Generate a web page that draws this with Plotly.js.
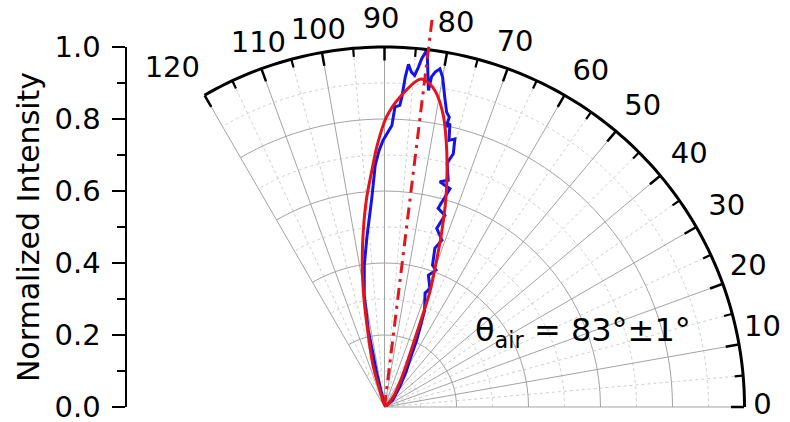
<!DOCTYPE html>
<html>
<head>
<meta charset="utf-8">
<script src="https://cdn.plot.ly/plotly-3.0.1.min.js"></script>
<style>
  html, body { margin: 0; padding: 0; background: #fff; }
  #chart { width: 790px; height: 422px; }
</style>
</head>
<body>
<div id="chart"></div>
<script>
// Measured angular emission profile (deg, normalized intensity)
const measTheta = [100, 99.7, 103.0, 101.9, 100.3, 98.1, 96.0, 93.5, 92.2, 91.2, 90.3, 88.5, 88.0, 87.1, 86.8,
  86.4, 86.0, 85.4, 84.8, 84.3, 83.9, 83.5, 83.2, 82.1, 81.9, 81.4, 80.7, 80.0, 79.0, 78.1, 77.4, 77.6, 77.0,
  76.4, 75.3, 74.8, 75.6, 74.3, 76.2, 73.3, 74.9, 72.5, 73.7, 71.0, 72.4, 71.3, 69.4, 71.6, 69.0, 70.4, 67.4,
  66.0, 64.3, 62.5, 58.5, 53, 40, 0];
const measR = [0, 0.020, 0.096, 0.218, 0.315, 0.398, 0.471, 0.580, 0.672, 0.713, 0.741, 0.782, 0.834, 0.839, 0.862,
  0.918, 0.954, 0.933, 0.925, 0.949, 0.973, 0.988, 1.000, 0.888, 0.926, 0.941, 0.952, 0.930, 0.877, 0.837, 0.825, 0.797, 0.808,
  0.762, 0.770, 0.729, 0.700, 0.654, 0.644, 0.633, 0.572, 0.558, 0.517, 0.490, 0.463, 0.416, 0.406, 0.386, 0.352, 0.336, 0.290,
  0.245, 0.206, 0.160, 0.115, 0.07, 0.03, 0];

// Fitted lobe
const fitTheta = [106, 105.2, 105.5, 102.0, 100.3, 98.9, 96.9, 94.9, 92.9, 91.7, 89.6, 87.1, 83.8, 82.2, 80.6,
  78.5, 77.0, 75.4, 73.6, 71.9, 70.2, 68.5, 66.4, 60.8, 49.5, 45];
const fitR = [0, 0.030, 0.116, 0.238, 0.330, 0.399, 0.491, 0.582, 0.665, 0.723, 0.806, 0.863, 0.916, 0.908, 0.883,
  0.823, 0.761, 0.690, 0.604, 0.512, 0.420, 0.345, 0.223, 0.107, 0.038, 0];

// Emission direction
const peakTheta = [83, 83];
const peakR = [0, 1.1];

// Axis ticks
const angleTicks = [0, 10, 20, 30, 40, 50, 60, 70, 80, 90, 100, 110, 120];
const angleTickText = angleTicks.map(String);
const angleMinor = [5, 15, 25, 35, 45, 55, 65, 75, 85, 95, 105, 115];
const radialMajor = [0.2, 0.4, 0.6, 0.8];
const radialMinor = [0.1, 0.3, 0.5, 0.7, 0.9];
const intensityTicks = [0, 0.2, 0.4, 0.6, 0.8, 1.0];
const intensityTickText = intensityTicks.map(v => v.toFixed(1));

// Where each angle label sits, just outside the frame
const labelTheta = [0, 11.7, 21, 30.2, 39.5, 49.2, 58.3, 70.2, 79.4, 90.5, 100, 109.2, 122.2];
const labelR = [1.05, 1.072, 1.082, 1.10, 1.097, 1.098, 1.091, 1.071, 1.08, 1.072, 1.058, 1.065, 1.106];

// Outer frame arc of the 0–120° sector
const SECTOR = [0, 120];
const frameTheta = [];
for (let a = SECTOR[0]; a <= SECTOR[1]; a += 1) frameTheta.push(a);
const frameR = frameTheta.map(() => 1);

const FONT = 'DejaVu Sans, Verdana, sans-serif';
const GRID_MAJOR = '#a3a3a3';
const GRID_MINOR = '#cfcfcf';

// Plot area: x 127..790 px, y 0..407 px.  The gridded sector has radius 360 px
// centred at (384.5, 407); the overlay sector (0–125°) shares the centre with a
// wider radial range so labels and the direction line can sit outside the frame.
const gridDomain = { x: [77 / 663, 618 / 663], y: [0, 360 / 407] };
const OUTER_RANGE = 1.125;
const OUTER_SECTOR = [0, 125];
const outerDomain = { x: [25.2 / 663, 662.5 / 663], y: [0, 405 / 407] };

const traces = [
  // holder for the minor-grid polar layer
  { type: 'scatterpolar', subplot: 'polar', r: [], theta: [], mode: 'lines', showlegend: false, hoverinfo: 'skip' },
  // intensity scale axis
  { type: 'scatter', xaxis: 'x', yaxis: 'y', x: [0, 0], y: [intensityTicks[0], intensityTicks[intensityTicks.length - 1]],
    mode: 'none', showlegend: false, hoverinfo: 'skip' },
  { type: 'scatterpolar', subplot: 'polar2', r: measR, theta: measTheta, mode: 'lines',
    line: { color: '#1414e8', width: 3 }, showlegend: false, hoverinfo: 'skip' },
  { type: 'scatterpolar', subplot: 'polar2', r: fitR, theta: fitTheta, mode: 'lines',
    line: { color: '#e3141c', width: 3, shape: 'spline', smoothing: 0.8 }, showlegend: false, hoverinfo: 'skip' },
  // outer arc
  { type: 'scatterpolar', subplot: 'polar3', r: frameR, theta: frameTheta, mode: 'lines', cliponaxis: false,
    line: { color: '#000', width: 3 }, showlegend: false, hoverinfo: 'skip' },
  // angle labels
  { type: 'scatterpolar', subplot: 'polar3', r: labelR, theta: labelTheta, mode: 'text', text: angleTickText,
    textposition: 'middle center', cliponaxis: false,
    textfont: { family: FONT, size: 29, color: '#000' }, showlegend: false, hoverinfo: 'skip' },
  { type: 'scatterpolar', subplot: 'polar3', r: peakR, theta: peakTheta, mode: 'lines', cliponaxis: false,
    line: { color: '#e3141c', width: 3, dash: '12px,6px,3px,6px' }, showlegend: false, hoverinfo: 'skip' }
];

const hiddenAngular = { showgrid: false, showline: false, ticks: '', showticklabels: false };
const hiddenRadial = { range: [0, OUTER_RANGE], showgrid: false, showline: false, ticks: '', showticklabels: false };

const layout = {
  width: 790, height: 422,
  margin: { l: 127, r: 0, t: 0, b: 15, pad: 0 },
  paper_bgcolor: '#fff', plot_bgcolor: 'rgba(0,0,0,0)',
  showlegend: false,
  font: { family: FONT, color: '#000' },
  xaxis: { domain: [0, 0.05], range: [0, 1], visible: false, fixedrange: true },
  yaxis: {
    domain: [0, 360 / 407], range: [0, 1], anchor: 'x', side: 'left',
    showline: true, linewidth: 2.5, linecolor: '#000',
    ticks: 'outside', ticklen: 13, tickwidth: 2.5, tickcolor: '#000',
    tickmode: 'array', tickvals: intensityTicks, ticktext: intensityTickText,
    ticklabeloverflow: 'allow', ticklabelstandoff: 5,
    minor: { ticks: 'outside', ticklen: 8, tickwidth: 2.5, tickcolor: '#000', tick0: 0, dtick: 0.1, showgrid: false },
    showgrid: false, zeroline: false,
    tickfont: { family: FONT, size: 29, color: '#000' },
    title: { text: 'Normalized Intensity', font: { family: FONT, size: 30, color: '#000' }, standoff: 6 }
  },
  // minor grid and minor angular ticks
  polar: {
    domain: gridDomain, sector: SECTOR, bgcolor: '#fff',
    angularaxis: {
      tickmode: 'array', tickvals: angleMinor, showticklabels: false,
      ticks: 'inside', ticklen: 8, tickwidth: 2.2, tickcolor: '#000',
      showline: false, gridcolor: GRID_MINOR, gridwidth: 1, griddash: '3px,3px'
    },
    radialaxis: {
      range: [0, 1], tickmode: 'array', tickvals: radialMinor, showticklabels: false, ticks: '',
      showline: false, gridcolor: GRID_MINOR, gridwidth: 1, griddash: '3px,3px'
    }
  },
  // major grid, major ticks and data
  polar2: {
    domain: gridDomain, sector: SECTOR, bgcolor: 'rgba(0,0,0,0)',
    angularaxis: {
      tickmode: 'array', tickvals: angleTicks, showticklabels: false,
      ticks: 'inside', ticklen: 13, tickwidth: 2.5, tickcolor: '#000',
      showline: false, gridcolor: GRID_MAJOR, gridwidth: 1
    },
    radialaxis: {
      range: [0, 1], tickmode: 'array', tickvals: radialMajor, showticklabels: false, ticks: '',
      showline: false, gridcolor: GRID_MAJOR, gridwidth: 1
    }
  },
  // frame arc, angle labels and direction line
  polar3: {
    domain: outerDomain, sector: OUTER_SECTOR, bgcolor: 'rgba(0,0,0,0)',
    angularaxis: hiddenAngular,
    radialaxis: hiddenRadial
  },
  annotations: [{
    xref: 'paper', yref: 'paper', x: 456 / 663, y: 75 / 407, xanchor: 'center', yanchor: 'middle',
    text: 'θ<sub>air</sub> = 83°±1°', showarrow: false,
    font: { family: FONT, size: 32, color: '#000' }
  }]
};

Plotly.newPlot('chart', traces, layout, { staticPlot: true, displayModeBar: false });
</script>
</body>
</html>
